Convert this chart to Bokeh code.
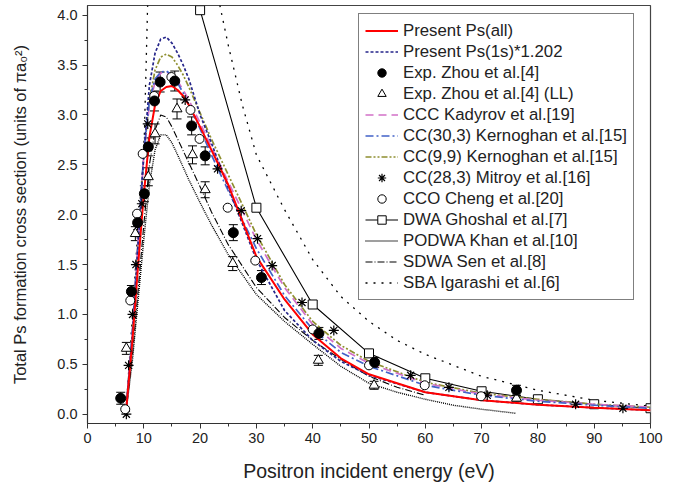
import numpy as np
from bokeh.plotting import figure
from bokeh.models import (Range1d, FixedTicker, PrintfTickFormatter, Whisker,
                          ColumnDataSource, Legend, LegendItem, TeeHead)
from bokeh.embed import file_html
from bokeh.resources import INLINE

NAN = float("nan")

# ---------------- data ----------------
E_TH = [6.8, 8, 9, 10, 11, 12, 13, 14, 15, 16, 17, 18, 20, 22, 25, 30, 35, 40, 45, 50, 60, 70, 80, 90, 100]
PS_ALL = [0.0, 0.75, 1.5, 2.2, 2.78, 3.1, 3.24, 3.28, 3.29, 3.25, 3.19, 3.1, 2.88, 2.65, 2.3, 1.58, 1.15, 0.8, 0.56, 0.40, 0.22, 0.14, 0.095, 0.065, 0.04]
PS_1S = [0.0, 0.8, 1.7, 2.6, 3.3, 3.62, 3.76, 3.78, 3.72, 3.62, 3.5, 3.36, 3.0, 2.72, 2.27, 1.55, 1.04, 0.74, 0.53, 0.39, 0.22, 0.14, 0.095, 0.065, 0.04]
CCC = [0.0, 0.85, 1.75, 2.6, 3.1, 3.33, 3.42, 3.43, 3.4, 3.34, 3.25, 3.15, 2.92, 2.68, 2.33, 1.75, 1.27, 0.9, 0.66, 0.51, 0.31, 0.2, 0.14, 0.1, 0.07]
CC30 = [0.0, 0.85, 1.75, 2.62, 3.15, 3.36, 3.43, 3.44, 3.4, 3.32, 3.22, 3.1, 2.86, 2.6, 2.24, 1.66, 1.19, 0.85, 0.62, 0.48, 0.29, 0.19, 0.13, 0.09, 0.06]
CC99 = [0.0, 0.85, 1.75, 2.6, 3.15, 3.45, 3.58, 3.61, 3.58, 3.5, 3.4, 3.28, 3.02, 2.76, 2.4, 1.8, 1.3, 0.93, 0.69, 0.53, 0.32, 0.21, 0.15, 0.1, 0.07]

E_PODWA = [6.8, 8, 9, 10, 11, 12, 13, 14, 15, 16, 18, 20, 22, 25, 30, 35, 40, 45, 50, 55, 60, 65, 70, 76]
PODWA = [0.0, 0.55, 1.15, 1.75, 2.3, 2.65, 2.8, 2.8, 2.72, 2.6, 2.35, 2.12, 1.9, 1.6, 1.2, 0.93, 0.7, 0.48, 0.31, 0.22, 0.15, 0.09, 0.05, 0.01]

E_SDWA = [6.8, 8, 9, 10, 11, 12, 13, 14, 15, 16, 18, 20, 22, 25, 30, 35, 40, 45, 50, 55, 60]
SDWA = [0.0, 0.6, 1.25, 1.9, 2.5, 2.85, 3.0, 2.98, 2.88, 2.76, 2.52, 2.28, 2.03, 1.70, 1.27, 0.97, 0.74, 0.55, 0.38, 0.27, 0.19]

E_SBA = [6.8, 8.0, 9.0, 9.7, 10.1, 10.5, 10.7, NAN, 23.5, 25, 27.5, 30, 35, 40, 45, 50, 55, 60, 70, 80, 90, 100]
SBA = [0.0, 1.0, 1.9, 2.4, 2.8, 3.7, 4.15, NAN, 4.1, 3.7, 3.1, 2.6, 2.05, 1.55, 1.18, 0.93, 0.74, 0.60, 0.38, 0.24, 0.14, 0.08]

E_DWA = [20, 30, 40, 50, 60, 70, 80, 90, 100]
DWA = [4.05, 2.07, 1.10, 0.61, 0.36, 0.23, 0.15, 0.10, 0.06]

E_ZHOU = [5.9, 7.8, 8.9, 10.1, 10.8, 11.9, 12.9, 15.5, 18.5, 20.9, 25.9, 30.9, 41.1, 51.0, 76.2]
ZHOU = [0.16, 1.23, 1.92, 2.21, 2.68, 3.14, 3.33, 3.34, 2.89, 2.59, 1.82, 1.37, 0.81, 0.52, 0.24]
ZHOU_ERR = [0.06, 0.06, 0.07, 0.08, 0.09, 0.1, 0.1, 0.1, 0.09, 0.09, 0.08, 0.07, 0.06, 0.05, 0.05]

E_LL = [6.9, 8.5, 10.8, 12.0, 15.9, 18.65, 20.9, 25.8, 41.0, 50.9, 76.2]
LL = [0.66, 1.81, 2.38, 2.81, 3.06, 2.60, 2.25, 1.51, 0.54, 0.29, 0.16]
LL_ERR = [0.06, 0.07, 0.09, 0.1, 0.1, 0.09, 0.08, 0.07, 0.05, 0.04, 0.03]

E_MIT = [6.9, 7.3, 8.0, 8.6, 9.65, 10.7, 17.35, 23.1, 27.3, 30.2, 32.8, 38.1, 43.75, 57.4, 64.2, 71.0, 86.7, 95.1]
MIT = [0.0, 0.49, 1.0, 1.50, 2.11, 2.91, 3.15, 2.46, 2.04, 1.76, 1.49, 1.12, 0.84, 0.39, 0.27, 0.19, 0.10, 0.06]

E_CCO = [6.7, 7.6, 8.8, 9.8, 11.85, 14.9, 18.3, 19.9, 24.9, 29.8, 40.0, 50.0, 59.9, 69.9]
CCO = [0.05, 1.14, 2.01, 2.61, 3.19, 3.38, 3.05, 2.76, 2.07, 1.54, 0.85, 0.49, 0.29, 0.18]

X_TICKS = [0, 10, 20, 30, 40, 50, 60, 70, 80, 90, 100]
Y_TICKS = [0.0, 0.5, 1.0, 1.5, 2.0, 2.5, 3.0, 3.5, 4.0]

FONT = "Liberation Sans"

# ---------------- figure ----------------
p = figure(width=670, height=484, output_backend="svg", toolbar_location=None,
           x_range=Range1d(0, 100), y_range=Range1d(-0.093, 4.097),
           min_border_left=87, min_border_right=20, min_border_top=5, min_border_bottom=60)
p.grid.visible = False
p.outline_line_color = "#444444"
p.outline_line_width = 1.2

p.xaxis.ticker = FixedTicker(ticks=X_TICKS, minor_ticks=list(range(5, 100, 10)))
p.yaxis.ticker = FixedTicker(ticks=Y_TICKS, minor_ticks=[0.25, 0.75, 1.25, 1.75, 2.25, 2.75, 3.25, 3.75])
p.yaxis.formatter = PrintfTickFormatter(format="%.1f")
for ax in (p.xaxis[0], p.yaxis[0]):
    ax.major_tick_in = 0
    ax.major_tick_out = 5
    ax.minor_tick_in = 0
    ax.minor_tick_out = 3
    ax.axis_line_color = "#333333"
    ax.major_tick_line_color = "#333333"
    ax.minor_tick_line_color = "#333333"
    ax.major_label_text_font = FONT
    ax.major_label_text_font_size = "14.5px"
    ax.major_label_text_color = "#222222"
    ax.axis_label_text_font = FONT
    ax.axis_label_text_font_style = "normal"
    ax.axis_label_text_color = "#222222"
p.xaxis.axis_label = "Positron incident energy (eV)"
p.yaxis.axis_label = "Total Ps formation cross section (units of \u03c0a\u2080\u00b2)"
p.xaxis.axis_label_text_font_size = "19.5px"
p.yaxis.axis_label_text_font_size = "16.5px"
p.xaxis.major_label_standoff = 4
p.xaxis.axis_label_standoff = 14
p.yaxis.major_label_standoff = 5
p.yaxis.axis_label_standoff = 25

# ---------------- glyphs ----------------
r_sba = p.line(E_SBA, SBA, line_color="black", line_width=1.3, line_dash="2 6")
r_pod = p.line(E_PODWA, PODWA, line_color="black", line_width=1.4, line_dash="1 1")
r_sdw = p.line(E_SDWA, SDWA, line_color="black", line_width=1.1, line_dash="7 2 1 2")
r_dwa = p.line(E_DWA, DWA, line_color="black", line_width=1.1)
r_dwa_m = p.scatter(E_DWA, DWA, marker="square", size=9, line_color="black", fill_color="white", line_width=1)
r_c99 = p.line(E_TH, CC99, line_color="#8f8f30", line_width=1.7, line_dash="6 2 2 2 2 2")
r_ccc = p.line(E_TH, CCC, line_color="#d270c8", line_width=1.7, line_dash="8 5")
r_c30 = p.line(E_TH, CC30, line_color="#4262c8", line_width=1.7, line_dash="8 3 2 3")
r_1s = p.line(E_TH, PS_1S, line_color="#25258a", line_width=1.7, line_dash="3 2")
r_all = p.line(E_TH, PS_ALL, line_color="red", line_width=2)

zs = ColumnDataSource(dict(x=E_ZHOU, lo=[a - b for a, b in zip(ZHOU, ZHOU_ERR)], hi=[a + b for a, b in zip(ZHOU, ZHOU_ERR)]))
p.add_layout(Whisker(base="x", lower="lo", upper="hi", source=zs, line_color="black", line_width=1,
                     upper_head=TeeHead(size=9, line_color="black"), lower_head=TeeHead(size=9, line_color="black")))
ls = ColumnDataSource(dict(x=E_LL, lo=[a - b for a, b in zip(LL, LL_ERR)], hi=[a + b for a, b in zip(LL, LL_ERR)]))
p.add_layout(Whisker(base="x", lower="lo", upper="hi", source=ls, line_color="black", line_width=1,
                     upper_head=TeeHead(size=9, line_color="black"), lower_head=TeeHead(size=9, line_color="black")))

r_mit = p.scatter(E_MIT, MIT, marker="asterisk", size=10, line_color="black", line_width=1.2)
r_cco = p.scatter(E_CCO, CCO, marker="circle", size=9, line_color="black", fill_color="white", line_width=1)
r_ll = p.scatter(E_LL, LL, marker="triangle", size=10, line_color="black", fill_color="white", line_width=1)
r_zh = p.scatter(E_ZHOU, ZHOU, marker="circle", size=10, line_color="black", fill_color="black")

items = [
    LegendItem(label="Present Ps(all)", renderers=[r_all]),
    LegendItem(label="Present Ps(1s)*1.202", renderers=[r_1s]),
    LegendItem(label="Exp. Zhou et al.[4]", renderers=[r_zh]),
    LegendItem(label="Exp. Zhou et al.[4] (LL)", renderers=[r_ll]),
    LegendItem(label="CCC Kadyrov et al.[19]", renderers=[r_ccc]),
    LegendItem(label="CC(30,3) Kernoghan et al.[15]", renderers=[r_c30]),
    LegendItem(label="CC(9,9) Kernoghan et al.[15]", renderers=[r_c99]),
    LegendItem(label="CC(28,3) Mitroy et al.[16]", renderers=[r_mit]),
    LegendItem(label="CCO Cheng et al.[20]", renderers=[r_cco]),
    LegendItem(label="DWA Ghoshal et al.[7]", renderers=[r_dwa, r_dwa_m]),
    LegendItem(label="PODWA Khan et al.[10]", renderers=[r_pod]),
    LegendItem(label="SDWA Sen et al.[8]", renderers=[r_sdw]),
    LegendItem(label="SBA Igarashi et al.[6]", renderers=[r_sba]),
]
legend = Legend(items=items, location=(271, 123))
legend.label_text_font = FONT
legend.label_text_font_size = "16.8px"
legend.label_text_color = "#222222"
legend.label_height = 21
legend.glyph_height = 21
legend.glyph_width = 33
legend.spacing = 0
legend.padding = 6
legend.label_standoff = 5
legend.margin = 0
legend.border_line_color = "black"
legend.border_line_width = 1
legend.background_fill_color = "white"
legend.background_fill_alpha = 1
p.add_layout(legend)

open("out.html", "w").write(file_html(p, INLINE))
